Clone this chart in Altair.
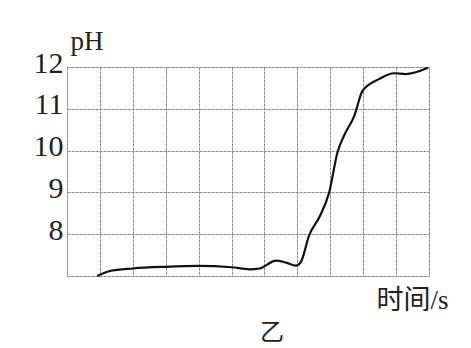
import altair as alt
import pandas as pd

# data
time_s = [0.92, 1.3, 2.0, 3.0, 4.0, 5.0, 5.55, 5.85, 6.35, 6.66, 6.96, 7.11, 7.36, 7.67, 7.97, 8.22, 8.42, 8.73, 8.98, 9.48, 9.94, 10.29, 10.97]
ph = [7.0, 7.12, 7.18, 7.22, 7.24, 7.21, 7.16, 7.18, 7.37, 7.32, 7.25, 7.34, 7.98, 8.41, 9.01, 9.96, 10.36, 10.83, 11.43, 11.71, 11.85, 11.83, 11.98]
x_ticks = list(range(0, 12))
y_ticks = [7, 8, 9, 10, 11, 12]

df = pd.DataFrame({"t": time_s, "ph": ph})

FONT = "'Liberation Serif', 'Noto Sans CJK SC'"

chart = alt.Chart(df).mark_line(
    color="#111111", strokeWidth=2.2, interpolate="monotone"
).encode(
    x=alt.X("t:Q", scale=alt.Scale(domain=[0, 11], nice=False, zero=False),
            axis=alt.Axis(values=x_ticks, labels=False, ticks=False, domain=False,
                          grid=True, gridColor="#888888", gridDash=[3, 1], gridWidth=1,
                          title="时间/s", titleFont=FONT, titleFontSize=27,
                          titleFontWeight="normal", titleColor="#222222",
                          titleAlign="left", titleBaseline="middle",
                          titleX=309, titleY=24, titleAngle=0)),
    y=alt.Y("ph:Q", scale=alt.Scale(domain=[7, 12], nice=False, zero=False),
            axis=alt.Axis(values=y_ticks, labelExpr="datum.value == 7 ? '' : datum.label",
                          ticks=False, domain=False, labelPadding=4, labelOffset=-4,
                          labelFont=FONT, labelFontSize=30, labelColor="#222222",
                          grid=True, gridColor="#888888", gridDash=[3, 1], gridWidth=1,
                          title="pH", titleFont=FONT, titleFontSize=27,
                          titleFontWeight="normal", titleColor="#222222",
                          titleAngle=0, titleAlign="left", titleBaseline="middle",
                          titleX=3, titleY=-26)),
).properties(
    width=362, height=209,
    autosize=alt.AutoSizeParams(type="none"),
    padding={"left": 67, "top": 67, "right": 42, "bottom": 72},
    title=alt.TitleParams("乙", orient="bottom", font=FONT, fontSize=24,
                          fontWeight="normal", color="#222222", anchor="middle",
                          dx=24, offset=8),
).configure_view(stroke="#888888", strokeDash=[3, 1], strokeWidth=1
).configure(background="white")

chart.save("out.html", embed_options={"renderer": "svg", "actions": False})
